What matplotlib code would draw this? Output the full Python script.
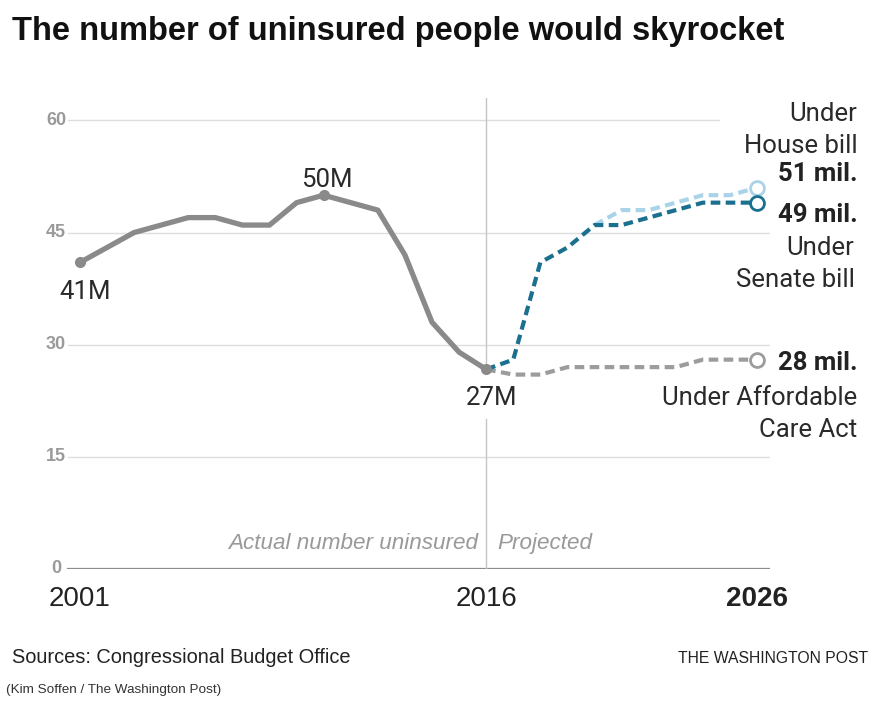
import matplotlib
matplotlib.use("Agg")
import matplotlib.pyplot as plt

# actual number uninsured (millions)
years_actual = list(range(2001, 2017))
actual = [41, 43, 45, 46, 47, 47, 46, 46, 49, 50, 49, 48, 42, 33, 29, 26.7]

# CBO projections (millions)
years_proj = list(range(2016, 2027))
senate = [26.7, 28, 41, 43, 46, 46, 47, 48, 49, 49, 49]
aca = [26.7, 26, 26, 27, 27, 27, 27, 27, 28, 28, 28]
years_house = list(range(2020, 2027))
house = [46, 48, 48, 49, 50, 50, 51]

yticks = [0, 15, 30, 45, 60]
xticks = [2001, 2016, 2026]

GRAY = "#8a8a8a"
TEAL = "#1b6f8f"
LIGHT = "#a9d3e8"
ACA = "#9c9c9c"
DARK = "#222222"

SANS = ["Liberation Sans", "DejaVu Sans"]

fig = plt.figure(figsize=(8.86, 7.09), dpi=100)
ax = fig.add_axes([0.0734, 0.1975, 0.7957, 0.6643])
ax.set_xlim(2000.45, 2026.48)
ax.set_ylim(0, 63)
ax.axis("off")

# gridlines
for v in yticks[1:]:
    x_end = 2024.6 if v == 60 else 2026.6
    ax.plot([2000.56, x_end], [v, v], color="#dddddd", lw=1, zorder=1)
    ax.text(2000.49, v, str(v), ha="right", va="center", fontsize=13,
            color="#9a9a9a", fontweight="bold", family=SANS)
ax.plot([2000.56, 2026.6], [0, 0], color="#8c8c8c", lw=1.6, zorder=1)
ax.text(2000.3, 0, "0", ha="right", va="center", fontsize=13,
        color="#9a9a9a", fontweight="bold", family=SANS)

# divider between actual and projected
ax.plot([2016, 2016], [26.7, 63], color="#c4c4c4", lw=1, zorder=1)
ax.plot([2016, 2016], [0, 20], color="#c4c4c4", lw=1, zorder=1)

# lines
ax.plot(years_house, house, color=LIGHT, lw=3, dashes=(2.3, 1.3), zorder=3)
ax.plot(years_proj, aca, color=ACA, lw=3, dashes=(2.3, 1.3), zorder=3)
ax.plot(years_proj, senate, color=TEAL, lw=3, dashes=(2.3, 1.3), zorder=4)
ax.plot(years_actual, actual, color=GRAY, lw=3.8, solid_capstyle="round",
        solid_joinstyle="round", zorder=5)

for i in [0, 9, 15]:
    ax.plot(years_actual[i], actual[i], "o", color=GRAY, ms=7, zorder=6)

ax.plot(years_house[-1], house[-1], "o", mfc="white", mec=LIGHT, mew=2, ms=10, zorder=7)
ax.plot(years_proj[-1], senate[-1], "o", mfc="white", mec=TEAL, mew=2, ms=10, zorder=7)
ax.plot(years_proj[-1], aca[-1], "o", mfc="white", mec=ACA, mew=2, ms=10, zorder=7)

# point labels
lab = dict(fontsize=18.5, color="#2a2a2a", family="Roboto")
bold = dict(fontsize=18.5, color=DARK, family="Roboto", fontweight="bold")
ax.text(2001.2, actual[0] - 3.9, "41M", ha="center", va="center", **lab)
ax.text(2010.1, actual[9] + 2.0, "50M", ha="center", va="center", **lab)
ax.text(2016.2, actual[15] - 3.8, "27M", ha="center", va="center", **lab)

# end labels
RX = 2029.7
ax.text(RX, 58.7, "Under\nHouse bill", ha="right", va="center",
        linespacing=1.4, **lab)
ax.text(RX, 52.8, "51 mil.", ha="right", va="center", **bold)
ax.text(RX, 47.4, "49 mil.", ha="right", va="center", **bold)
ax.text(RX - 0.1, 40.8, "Under\nSenate bill", ha="right", va="center",
        linespacing=1.4, **lab)
ax.text(RX, 27.5, "28 mil.", ha="right", va="center", **bold)
ax.text(RX, 20.7, "Under Affordable\nCare Act", ha="right", va="center",
        linespacing=1.4, **lab)

ax.text(2015.7, 3.4, "Actual number uninsured", ha="right", va="center",
        fontsize=16.2, color="#999999", style="italic", family=SANS)
ax.text(2016.4, 3.4, "Projected", ha="left", va="center",
        fontsize=16.2, color="#999999", style="italic", family=SANS)

# x tick labels
for x in xticks:
    ax.text(x, -4, str(x), ha="center", va="center", fontsize=20,
            color=DARK, family=SANS,
            fontweight="bold" if x == 2026 else "normal")

fig.text(0.0135, 0.955, "The number of uninsured people would skyrocket",
         ha="left", va="center", fontsize=23.5, fontweight="bold",
         color="#111111", family=SANS)
fig.text(0.0135, 0.072, "Sources: Congressional Budget Office", ha="left",
         va="center", fontsize=14.4, color=DARK, family=SANS)
fig.text(0.98, 0.071, "THE WASHINGTON POST", ha="right", va="center",
         fontsize=11.3, color=DARK, family=SANS)
fig.text(0.007, 0.027, "(Kim Soffen / The Washington Post)", ha="left",
         va="center", fontsize=9.7, color="#333333", family=SANS)

fig.savefig("out.png", dpi=100, facecolor="white")
